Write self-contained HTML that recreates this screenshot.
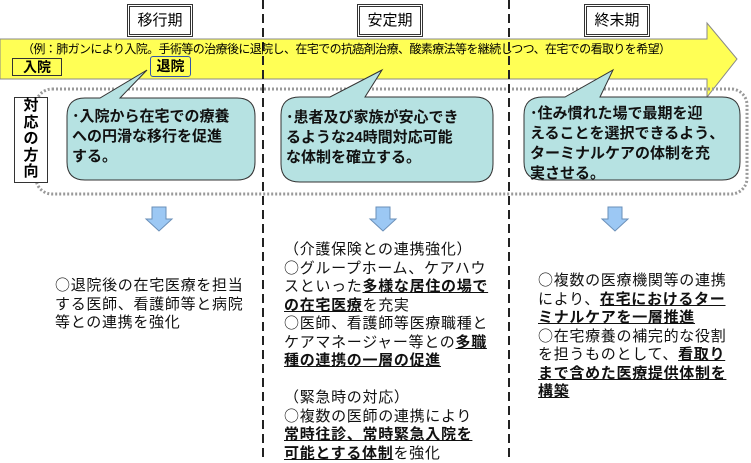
<!DOCTYPE html>
<html><head><meta charset="utf-8"><style>
body{margin:0;width:751px;height:459px;background:#fff;position:relative;overflow:hidden;font-family:"Liberation Sans","Noto Sans CJK JP",sans-serif;}
.a{position:absolute;}
.per{position:absolute;top:4px;width:60px;height:27px;border:3px double #333;background:#fff;font-size:15px;text-align:center;line-height:27px;}
.t{position:absolute;font-family:"Noto Sans CJK JP",sans-serif;font-size:15px;line-height:18.5px;letter-spacing:0.7px;color:#111;white-space:nowrap;}
.t b{text-decoration:underline;}
.c{position:absolute;font-size:15px;line-height:20px;font-weight:bold;color:#111;white-space:nowrap;}
</style></head><body>
<svg class="a" style="left:0;top:0" width="751" height="459">
<path d="M0,39 H707 V23 L737,59 L707,97 V79 H0 Z" fill="#ffff55" stroke="#888" stroke-width="1"/>
<rect x="36" y="89" width="711" height="105" rx="16" fill="none" stroke="#999" stroke-width="3" stroke-dasharray="2,2"/>
<line x1="263" y1="0" x2="263" y2="459" stroke="#222" stroke-width="2" stroke-dasharray="9,5"/>
<line x1="509" y1="0" x2="509" y2="459" stroke="#222" stroke-width="2" stroke-dasharray="9,5"/>
<g fill="#b6e2e2" stroke="#333" stroke-width="1">
<path d="M85,98 H100 L147,70 L120,98 H237 Q255,98 255,116 V162 Q255,180 237,180 H85 Q67,180 67,162 V116 Q67,98 85,98 Z"/>
<path d="M300,97 H330 L382,70 L365,97 H475 Q493,97 493,115 V164 Q493,182 475,182 H300 Q281,182 281,164 V115 Q281,97 300,97 Z"/>
<path d="M543,97 H565 L613,70 L600,97 H722 Q740,97 740,115 V162 Q740,180 722,180 H543 Q524,180 524,162 V115 Q524,97 543,97 Z"/>
</g>
<g fill="#9cc8f4" stroke="#6a8fb8" stroke-width="1">
<path d="M152,207 H166 V219 H172 L159,231 L146,219 H152 Z"/>
<path d="M376,207 H390 V219 H396 L383,231 L370,219 H376 Z"/>
<path d="M608,207 H622 V219 H628 L615,231 L602,219 H608 Z"/>
</g>
</svg>
<div class="per" style="left:127px">移行期</div>
<div class="per" style="left:357px">安定期</div>
<div class="per" style="left:584px">終末期</div>
<div class="a" style="left:22px;top:40px;font-size:12px;letter-spacing:-0.6px;white-space:nowrap">（例：肺ガンにより入院。手術等の治療後に退院し、在宅での抗癌剤治療、酸素療法等を継続しつつ、在宅での看取りを希望）</div>
<div class="a" style="left:12px;top:58px;width:48px;height:16px;border:1px solid #333;font-size:14px;font-weight:bold;line-height:16px;text-align:center">入院</div>
<div class="a" style="left:150px;top:56px;width:39px;height:19px;border:1px solid #3355aa;border-radius:3px;font-size:14px;font-weight:bold;line-height:19px;text-align:center;background:#ffff55">退院</div>
<div class="a" style="left:14px;top:97px;width:32px;height:84px;border:1px solid #333;background:#fff;font-size:15px;font-weight:bold;line-height:16.5px;text-align:center">対<br>応<br>の<br>方<br>向</div>
<div class="c" style="left:72px;top:107px">･入院から在宅での療養<br>への円滑な移行を促進<br>する。</div>
<div class="c" style="left:286px;top:108px">･患者及び家族が安心でき<br>るような24時間対応可能<br>な体制を確立する。</div>
<div class="c" style="left:530px;top:104px">･住み慣れた場で最期を迎<br>えることを選択できるよう、<br>ターミナルケアの体制を充<br>実させる。</div>
<div class="t" style="left:55px;top:276px">○退院後の在宅医療を担当<br>する医師、看護師等と病院<br>等との連携を強化</div>
<div class="t" style="left:284px;top:240px">（介護保険との連携強化）<br>○グループホーム、ケアハウ<br>スといった<b>多様な居住の場で</b><br><b>の在宅医療</b>を充実<br>○医師、看護師等医療職種と<br>ケアマネージャー等との<b>多職</b><br><b>種の連携の一層の促進</b><br>&nbsp;<br>（緊急時の対応）<br>○複数の医師の連携により<br><b>常時往診、常時緊急入院を</b><br><b>可能とする体制</b>を強化</div>
<div class="t" style="left:538px;top:271px">○複数の医療機関等の連携<br>により、<b>在宅におけるター</b><br><b>ミナルケアを一層推進</b><br>○在宅療養の補完的な役割<br>を担うものとして、<b>看取り</b><br><b>まで含めた医療提供体制を</b><br><b>構築</b></div>
</body></html>
